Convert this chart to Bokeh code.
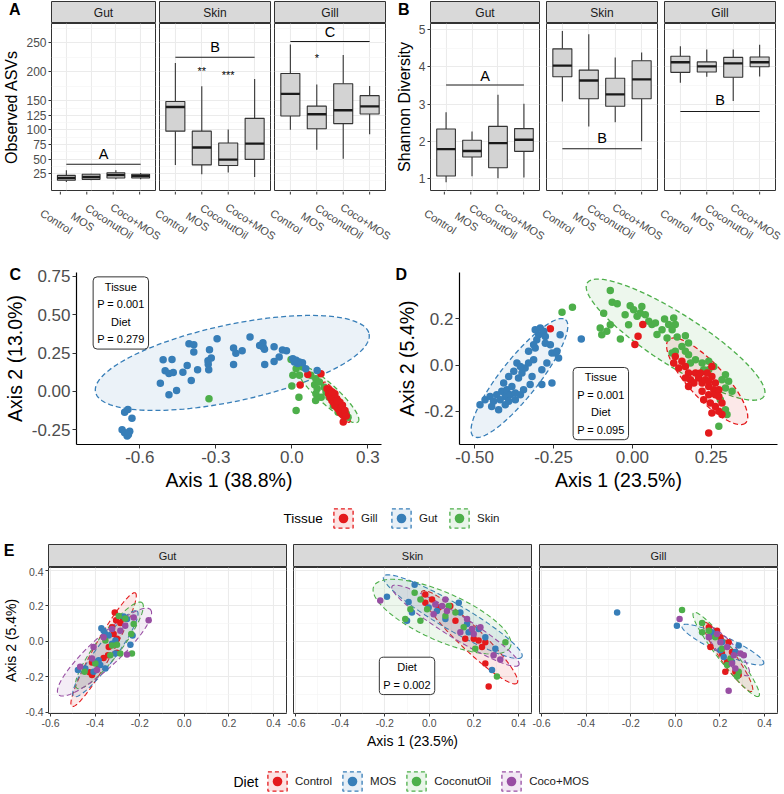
import numpy as np
from bokeh.plotting import figure
from bokeh.layouts import row, column
from bokeh.models import (Range1d, FixedTicker, Label, Legend, LegendItem, Title,
                          PrintfTickFormatter, LinearAxis, Grid)
from bokeh.embed import file_html
from bokeh.resources import INLINE
from bokeh.core.properties import value

# ---------------------------------------------------------------- data
DIETS = ["Control", "MOS", "CoconutOil", "Coco+MOS"]
TISSUES = ["Gut", "Skin", "Gill"]
TISSUE_LEGEND = ["Gill", "Gut", "Skin"]

# boxplot statistics per diet: lower whisker, Q1, median, Q3, upper whisker
ASV_GUT = [[10.6, 13.5, 17.5, 22.0, 30.6], [13.5, 15.2, 19.2, 23.8, 25.0],
           [15.2, 17.5, 22.6, 26.6, 30.6], [15.2, 17.5, 21.0, 23.8, 26.0]]
ASV_SKIN = [[40, 98, 139.5, 149, 215], [24, 40, 70, 98, 175],
            [27, 39, 49, 77.6, 101], [19, 49.5, 76.5, 120, 187.6]]
ASV_GILL = [[100.5, 124, 162, 197, 247], [66, 102, 127, 141, 178],
            [50.7, 111, 134, 179.5, 229], [92.5, 127.4, 140.6, 159, 175.5]]
ASV_TICKS = [25, 50, 75, 100, 125, 150, 200, 250]
ASV_MINOR = [12.5, 37.5, 62.5, 87.5, 112.5, 137.5, 175, 225, 275]
ASV_GROUP = ["A", "B", "C"]
ASV_GROUP_LINE = [41, 225, 252]
ASV_GROUP_TEXT = [58, 242, 268]
ASV_STARS = [[], [("**", 2, 202), ("***", 3, 194)], [("*", 2, 224)]]

SH_GUT = [[0.90, 1.07, 1.79, 2.33, 2.78], [1.06, 1.58, 1.74, 2.03, 2.26],
          [1.01, 1.29, 1.95, 2.40, 3.25], [1.03, 1.73, 2.04, 2.34, 3.01]]
SH_SKIN = [[3.07, 3.73, 4.03, 4.48, 4.96], [2.40, 3.14, 3.63, 3.91, 4.87],
           [2.51, 2.94, 3.26, 3.69, 4.25], [2.00, 3.14, 3.66, 4.16, 4.38]]
SH_GILL = [[3.57, 3.85, 4.12, 4.28, 4.55], [3.73, 3.86, 4.01, 4.13, 4.46],
           [3.08, 3.72, 4.09, 4.25, 4.46], [3.74, 4.00, 4.12, 4.26, 4.59]]
SH_TICKS = [1, 2, 3, 4, 5]
SH_MINOR = [1.5, 2.5, 3.5, 4.5]
SH_GROUP = ["A", "B", "B"]
SH_GROUP_LINE = [3.51, 1.80, 2.80]
SH_GROUP_TEXT = [3.74, 2.09, 3.10]

# PCoA C (Axis 1 38.8 %, Axis 2 13.0 %) points by tissue
C_GUT = [(-0.67, -0.25), (-0.65, -0.29), (-0.64, -0.26), (-0.66, -0.27), (-0.645, -0.28),
         (-0.66, -0.135), (-0.647, -0.118), (-0.631, -0.174), (-0.519, 0.054), (-0.508, 0.207),
         (-0.473, 0.209), (-0.5, 0.135), (-0.485, 0.117), (-0.468, 0.123), (-0.485, -0.022),
         (-0.455, 0.007), (-0.43, 0.126), (-0.413, 0.17), (-0.397, 0.072), (-0.406, 0.311),
         (-0.387, 0.305), (-0.387, 0.257), (-0.372, 0.141), (-0.33, 0.178), (-0.328, 0.141),
         (-0.331, 0.2), (-0.318, 0.218), (-0.325, 0.272), (-0.295, 0.344), (-0.23, 0.283),
         (-0.221, 0.25), (-0.196, 0.266), (-0.23, 0.176), (-0.165, 0.355), (-0.127, 0.3),
         (-0.114, 0.318), (-0.113, 0.29), (-0.108, 0.276), (-0.107, 0.176), (-0.07, 0.292),
         (-0.07, 0.196), (-0.05, 0.224), (-0.037, 0.27), (-0.021, 0.265), (0.004, 0.213),
         (0.017, 0.203), (0.03, 0.192), (0.042, 0.187), (0.023, 0.183), (0.01, 0.192),
         (0.1, 0.137), (0.055, 0.148)]
C_SKIN = [(-0.327, -0.048), (-0.003, 0.209), (0.017, 0.148), (0.042, 0.159), (0.03, 0.105),
          (0.004, 0.105), (0.0, 0.035), (0.028, -0.037), (0.017, -0.124), (0.09, 0.044),
          (0.1, 0.018), (0.095, -0.015), (0.116, -0.037), (0.094, -0.059), (0.075, 0.105),
          (0.095, 0.083), (0.109, 0.061), (0.128, 0.028), (0.141, -0.004), (0.158, -0.048),
          (0.177, -0.081), (0.196, -0.114), (0.215, -0.146), (0.183, -0.135), (0.164, -0.092),
          (0.147, -0.037), (0.135, -0.004), (0.222, -0.168), (0.17, -0.06), (0.19, -0.095),
          (0.2, -0.12)]
C_GILL = [(0.063, 0.111), (0.033, 0.042), (0.115, 0.115), (0.139, 0.017), (0.145, -0.015),
          (0.151, -0.037), (0.158, -0.059), (0.164, -0.07), (0.17, -0.092), (0.177, -0.103),
          (0.183, -0.114), (0.19, -0.135), (0.196, -0.146), (0.203, -0.157), (0.209, -0.146),
          (0.164, -0.037), (0.177, -0.048), (0.183, -0.081), (0.17, -0.015), (0.196, -0.103),
          (0.203, -0.2), (0.151, 0.006), (0.16, -0.004), (0.19, -0.07), (0.2, -0.09),
          (0.21, -0.125), (0.18, -0.06), (0.215, -0.16)]
# ellipses: centre x, centre y, major half-axis (dx, dy), minor half-axis (dx, dy); order Gut, Skin, Gill
C_ELL = [(-0.235, 0.186, 0.54, 0.19, 0.03, -0.245),
         (0.14, -0.014, 0.122, -0.183, 0.025, 0.049),
         (0.177, -0.07, 0.051, -0.13, 0.016, 0.018)]

# PCoA D (Axis 1 23.5 %, Axis 2 5.4 %)
D_GUT = [(-0.483, -0.171), (-0.467, -0.149), (-0.451, -0.135), (-0.44, -0.156), (-0.424, -0.192),
         (-0.43, -0.128), (-0.414, -0.113), (-0.403, -0.135), (-0.398, -0.106), (-0.387, -0.128),
         (-0.382, -0.092), (-0.371, -0.149), (-0.408, -0.077), (-0.392, -0.049), (-0.376, -0.027),
         (-0.366, 0.009), (-0.361, -0.056), (-0.35, -0.034), (-0.34, -0.013), (-0.329, 0.009),
         (-0.313, 0.023), (-0.308, 0.073), (-0.303, 0.109), (-0.297, 0.13), (-0.308, 0.152),
         (-0.292, 0.159), (-0.281, 0.145), (-0.276, 0.123), (-0.26, 0.087), (-0.255, 0.052),
         (-0.244, 0.052), (-0.229, 0.13), (-0.234, 0.03), (-0.324, -0.084), (-0.287, -0.084),
         (-0.255, -0.077), (-0.403, -0.171), (-0.446, -0.178), (-0.419, -0.149), (-0.392, -0.156),
         (-0.355, -0.128), (-0.371, -0.12), (-0.345, -0.106), (-0.318, -0.049), (-0.287, -0.02),
         (-0.271, 0.009), (-0.329, 0.059), (-0.355, -0.006), (-0.313, 0.087), (-0.276, 0.094),
         (-0.239, 0.059), (-0.162, 0.112)]
D_SKIN = [(-0.223, 0.227), (-0.19, 0.249), (-0.07, 0.321), (-0.064, 0.27), (-0.048, 0.264),
          (-0.091, 0.223), (-0.07, 0.173), (-0.081, 0.145), (-0.097, 0.13), (-0.102, 0.159),
          (-0.038, 0.112), (-0.023, 0.216), (-0.007, 0.255), (0.004, 0.238), (0.015, 0.21),
          (0.025, 0.224), (0.03, 0.252), (0.041, 0.216), (-0.012, 0.173), (0.052, 0.188),
          (0.062, 0.174), (0.073, 0.181), (0.078, 0.131), (0.094, 0.152), (0.102, 0.198),
          (0.115, 0.174), (0.131, 0.202), (0.136, 0.174), (0.126, 0.152), (0.11, 0.116),
          (0.142, 0.12), (0.168, 0.126), (0.178, 0.095), (0.157, 0.08), (0.168, 0.059),
          (0.178, 0.044), (0.2, 0.023), (0.221, 0.009), (0.242, 0.016), (0.258, -0.006),
          (0.242, -0.02), (0.226, -0.02), (0.184, 0.009), (0.136, 0.059), (0.126, 0.052),
          (0.295, -0.042), (0.284, -0.063), (0.305, -0.07), (0.316, -0.113), (0.295, -0.099),
          (0.279, -0.149), (0.295, -0.192), (0.3, -0.213), (0.274, -0.263)]
D_GILL = [(-0.26, 0.156), (0.033, 0.174), (0.018, 0.124), (0.008, 0.088), (0.136, 0.037),
          (0.131, 0.009), (0.147, -0.013), (0.157, 0.016), (0.168, -0.006), (0.178, -0.034),
          (0.184, -0.063), (0.2, -0.034), (0.21, -0.056), (0.221, -0.077), (0.231, -0.063),
          (0.242, -0.092), (0.252, -0.049), (0.263, -0.077), (0.258, -0.106), (0.221, -0.113),
          (0.242, -0.128), (0.226, -0.149), (0.247, -0.163), (0.263, -0.178), (0.274, -0.199),
          (0.284, -0.213), (0.252, -0.206), (0.263, -0.128), (0.274, -0.106), (0.216, -0.034),
          (0.195, -0.077), (0.168, -0.056), (0.178, -0.092), (0.242, -0.07), (0.237, -0.034),
          (0.252, -0.006), (0.274, -0.135), (0.284, -0.163), (0.242, -0.292)]
D_ELL = [(-0.358, -0.056, 0.146, 0.251, 0.047, -0.05),
         (0.137, 0.109, 0.28, -0.244, -0.0434, -0.0917),
         (0.237, -0.07, 0.122, -0.179, -0.041, -0.052)]

# E: per tissue facet, points per diet (Control, MOS, CoconutOil, Coco+MOS)
E_GUT_CONTROL = [(-0.312, 0.163), (-0.306, 0.12), (-0.287, 0.104), (-0.324, 0.08), (-0.317, 0.042),
                 (-0.302, 0.015), (-0.339, -0.031), (-0.302, -0.063), (-0.362, -0.093), (-0.414, -0.119),
                 (-0.425, -0.174), (-0.384, -0.133), (-0.276, 0.129), (-0.342, -0.078), (-0.414, -0.189)]
E_GUT_MOS = [(-0.399, -0.115), (-0.384, -0.106), (-0.377, -0.133), (-0.362, 0.061), (-0.354, 0.042),
             (-0.339, 0.033), (-0.309, 0.006), (-0.272, 0.141), (-0.257, 0.126), (-0.309, -0.068),
             (-0.232, 0.033), (-0.242, -0.018), (-0.444, -0.152), (-0.477, -0.161), (-0.407, -0.17),
             (-0.354, -0.152), (-0.324, -0.013), (-0.372, 0.074)]
E_GUT_COCO = [(-0.324, -0.022), (-0.302, -0.018), (-0.287, -0.068), (-0.265, 0.129), (-0.238, 0.042),
              (-0.227, 0.098), (-0.354, 0.006), (-0.332, -0.078), (-0.399, -0.124), (-0.447, -0.17),
              (-0.235, -0.068), (-0.294, 0.144)]
E_GUT_COCOMOS = [(-0.16, 0.12), (-0.227, 0.135), (-0.257, -0.074), (-0.407, -0.031), (-0.362, 0.024),
                 (-0.324, 0.07), (-0.287, 0.061), (-0.392, -0.161), (-0.414, -0.096), (-0.265, 0.089),
                 (-0.467, -0.143)]
E_SKIN_CONTROL = [(-0.018, 0.265), (-0.018, 0.219), (0.042, 0.191), (0.094, 0.2), (0.117, 0.117),
                  (0.161, 0.015), (0.199, 0.015), (0.221, 0.006), (0.251, -0.004), (0.236, -0.031),
                  (0.251, -0.124), (0.266, -0.254), (0.012, 0.237)]
E_SKIN_MOS = [(-0.19, 0.252), (-0.066, 0.32), (-0.093, 0.222), (-0.078, 0.163), (-0.1, 0.117),
              (0.034, 0.172), (0.132, 0.219), (0.139, 0.163), (0.169, 0.098), (0.221, 0.07),
              (0.251, 0.024), (0.296, -0.041), (0.281, -0.161), (0.072, 0.126), (-0.003, 0.191),
              (0.176, 0.052)]
E_SKIN_COCO = [(-0.066, 0.274), (-0.04, 0.237), (-0.085, 0.181), (-0.108, 0.126), (-0.04, 0.117),
               (-0.01, 0.181), (0.072, 0.144), (0.117, 0.163), (0.154, 0.08), (0.303, -0.198),
               (0.341, -0.004), (0.087, 0.2), (0.206, -0.041)]
E_SKIN_COCOMOS = [(-0.22, 0.231), (0.027, 0.209), (0.019, 0.154), (0.057, 0.2), (0.079, 0.172),
                  (0.169, 0.126), (0.191, 0.07), (0.199, 0.042), (0.229, 0.08), (0.288, -0.078),
                  (0.318, -0.102), (0.072, 0.237), (0.139, 0.052)]
E_GILL_CONTROL = [(0.15, 0.08), (0.187, 0.061), (0.157, -0.031), (0.209, -0.068), (0.232, -0.115),
                  (0.269, -0.17), (0.284, -0.189), (0.254, -0.059), (0.239, -0.004), (0.202, 0.024),
                  (0.224, -0.17)]
E_GILL_MOS = [(-0.261, 0.163), (0.007, 0.089), (0.157, 0.03), (0.209, -0.004), (0.284, -0.022),
              (0.217, -0.087), (0.202, -0.05), (0.254, -0.115), (0.164, 0.052), (0.269, -0.059)]
E_GILL_COCO = [(0.03, 0.178), (0.12, 0.104), (0.12, 0.052), (0.15, 0.061), (0.179, 0.024),
               (0.232, -0.133), (0.277, -0.198), (0.284, -0.17), (0.209, -0.041), (0.247, -0.096)]
E_GILL_COCOMOS = [(0.019, 0.126), (0.239, -0.278), (0.15, 0.024), (0.202, -0.004), (0.232, -0.031),
                  (0.262, -0.078), (0.292, -0.068), (0.307, -0.078), (0.254, -0.124), (0.269, -0.152),
                  (0.187, 0.042)]
E_GUT_ELL = [(-0.362, -0.046, 0.142, 0.32, 0.0366, -0.025), (-0.354, -0.069, 0.142, 0.241, 0.036, -0.033),
             (-0.336, -0.022, 0.146, 0.241, 0.043, -0.04), (-0.358, -0.06, 0.206, 0.24, 0.046, -0.061)]
E_SKIN_ELL = [(0.18, 0.024, 0.213, -0.259, -0.037, -0.046), (0.105, 0.14, 0.31, -0.227, -0.03, -0.064),
              (0.057, 0.14, 0.306, -0.171, -0.045, -0.123), (0.117, 0.089, 0.284, -0.222, -0.028, -0.055)]
E_GILL_ELL = [(0.236, -0.087, 0.108, -0.194, -0.027, -0.023), (0.213, -0.018, 0.183, -0.107, -0.016, -0.042),
              (0.228, -0.073, 0.146, -0.236, -0.03, -0.028), (0.236, -0.055, 0.093, -0.135, -0.028, -0.03)]

# ---------------------------------------------------------------- style
FONT = "Liberation Sans"
RED, BLUE, GREEN, PURPLE = "#E41A1C", "#377EB8", "#4DAF4A", "#984EA3"
TISSUE_COLORS = {"Gut": BLUE, "Skin": GREEN, "Gill": RED}
DIET_COLORS = [RED, BLUE, GREEN, PURPLE]
DARK = "#333333"
TICKC = "#4D4D4D"
BOXW = 0.72
T = np.linspace(0, 2 * np.pi, 121)
W_ALL = 784


def base_fig(w, h, lb, rb, tb, bb, xr, yr):
    p = figure(width=w, height=h, x_range=Range1d(*xr), y_range=Range1d(*yr),
               x_axis_type=None, y_axis_type=None, toolbar_location=None,
               output_backend="svg", title=None,
               min_border_left=lb, min_border_right=rb,
               min_border_top=tb, min_border_bottom=bb)
    p.outline_line_color = None
    p.background_fill_color = "white"
    p.border_fill_color = "white"
    return p


def add_axis(p, side, ticks, fmt=None, label=None, tick_size="12px", label_size="15px",
             tick_len=3, line_color=None, line_width=1.0):
    ax = LinearAxis(ticker=FixedTicker(ticks=ticks, minor_ticks=[]))
    if fmt:
        ax.formatter = PrintfTickFormatter(format=fmt)
    ax.axis_line_color = line_color
    ax.axis_line_width = line_width
    ax.major_tick_line_color = DARK
    ax.major_tick_in = 0
    ax.major_tick_out = tick_len
    ax.minor_tick_line_color = None
    ax.major_label_text_font = FONT
    ax.major_label_text_color = TICKC
    ax.major_label_text_font_size = tick_size
    ax.major_label_standoff = 2
    if label:
        ax.axis_label = label
        ax.axis_label_text_font = FONT
        ax.axis_label_text_font_size = label_size
        ax.axis_label_text_font_style = "normal"
        ax.axis_label_text_color = "black"
        ax.axis_label_standoff = 3
    p.add_layout(ax, side)


def add_grid(p, dim, ticks, minor):
    g = Grid(dimension=dim, ticker=FixedTicker(ticks=ticks, minor_ticks=minor),
             grid_line_color="#EBEBEB", grid_line_width=1.1,
             minor_grid_line_color="#F3F3F3" if minor else None, minor_grid_line_width=0.6)
    p.add_layout(g)


def ellipse(p, e, col, lw=1.1):
    cx, cy, ax_, ay_, bx, by = e
    xs = cx + ax_ * np.cos(T) + bx * np.sin(T)
    ys = cy + ay_ * np.cos(T) + by * np.sin(T)
    p.patch(x=xs, y=ys, fill_color=col, fill_alpha=0.1, line_color=col,
            line_dash="5 3", line_width=lw)


def dots(p, pts, col, size):
    p.scatter(x=[q[0] for q in pts], y=[q[1] for q in pts], size=size,
              fill_color=col, line_color=None)


def strip(w, h, l, r, top, txt, size, tag=None, tag_from_top=8, tag_right=13):
    """facet strip; the optional panel letter is the single label of a bare left axis"""
    sh = h - top
    p = base_fig(w, h, l, r, top, 0, (0, 1), (0, sh))
    p.background_fill_color = "#D9D9D9"
    p.outline_line_color = DARK
    p.text(x=[0.5], y=[sh / 2], text=[txt], text_align="center", text_baseline="middle",
           text_font=value(FONT), text_font_size=size, text_color="#1A1A1A")
    if tag:
        ty = sh - tag_from_top
        ax = LinearAxis(ticker=FixedTicker(ticks=[ty], minor_ticks=[]),
                        major_label_overrides={ty: tag})
        ax.axis_line_color = None
        ax.major_tick_line_color = None
        ax.major_tick_in = 0
        ax.major_tick_out = 0
        ax.minor_tick_line_color = None
        ax.major_label_standoff = l - tag_right
        ax.major_label_text_font = FONT
        ax.major_label_text_font_size = "16px"
        ax.major_label_text_font_style = "bold"
        ax.major_label_text_color = "black"
        p.add_layout(ax, "left")
    return p


def box_facet(stats, yr, yticks, yminor, grp, gline, gtext, stars, w, lb, rb, ylabel):
    p = base_fig(w, 168, lb, rb, 0, 1, (0.4, 4.6), yr)
    p.outline_line_color = DARK
    add_grid(p, 0, [1, 2, 3, 4], [])
    add_grid(p, 1, yticks, yminor)
    if ylabel:
        add_axis(p, "left", yticks, label=ylabel, tick_size="12px", label_size="16px")
    xs = [1, 2, 3, 4]
    lo = [s[0] for s in stats]
    q1 = [s[1] for s in stats]
    md = [s[2] for s in stats]
    q3 = [s[3] for s in stats]
    hi = [s[4] for s in stats]
    p.segment(x0=xs, y0=lo, x1=xs, y1=q1, line_color=DARK, line_width=1.1)
    p.segment(x0=xs, y0=q3, x1=xs, y1=hi, line_color=DARK, line_width=1.1)
    p.vbar(x=xs, width=BOXW, bottom=q1, top=q3, fill_color="#D3D3D3",
           line_color=DARK, line_width=1.1)
    p.segment(x0=[x - BOXW / 2 for x in xs], y0=md, x1=[x + BOXW / 2 for x in xs], y1=md,
              line_color="#1A1A1A", line_width=2.4)
    p.segment(x0=[1], y0=[gline], x1=[4], y1=[gline], line_color="#1A1A1A", line_width=1.1)
    p.text(x=[2.5], y=[gtext], text=[grp], text_align="center", text_baseline="middle",
           text_font=value(FONT), text_font_size="14.5px", text_color="black")
    if stars:
        p.text(x=[s[1] for s in stars], y=[s[2] for s in stars], text=[s[0] for s in stars],
               text_align="center", text_baseline="middle", text_font=value(FONT),
               text_font_size="11px", text_color="black")
    return p


def facet_range(panel_left, lb, fw, h_units=4.2, start=0.4):
    """x range (in a facet's own category units) spanning the full page width"""
    upp = h_units / fw
    x0 = start - (panel_left + lb) * upp
    return (x0, x0 + W_ALL * upp), (fw, upp)


def box_panel(stats_list, yr, yticks, yminor, grps, glines, gtexts, stars_list,
              lb, fw, gap, rb_last, ylabel, tag, tag_right):
    cols = []
    for k, t in enumerate(TISSUES):
        l = lb if k == 0 else gap - gap // 2
        r = rb_last if k == 2 else gap // 2
        w = l + fw + r
        s = strip(w, 23, l, r, 1, t, "12px", tag if k == 0 else None, 8, tag_right)
        pp = box_facet(stats_list[k], yr, yticks, yminor, grps[k], glines[k], gtexts[k],
                       stars_list[k], w, l, r, ylabel if k == 0 else None)
        cols.append(column(s, pp))
    return cols


def add_tick_labels(p, range_name, fw, gap, h):
    """x tick marks and rotated diet labels below the three facets of one panel"""
    upp = 4.2 / fw
    stride = (fw + gap) * upp
    xs = [k * stride + i + 1 for k in range(len(TISSUES)) for i in range(len(DIETS))]
    txt = [d for k in range(len(TISSUES)) for d in DIETS]
    kw = {} if range_name is None else {"x_range_name": range_name}
    p.segment(x0=xs, y0=[h] * len(xs), x1=xs, y1=[h - 3] * len(xs), line_color=DARK,
              line_width=1, **kw)
    p.text(x=xs, y=[h - 30] * len(xs), text=txt, angle=-np.pi * 33 / 180, x_offset=-4,
           text_align="center", text_baseline="middle", text_font=value(FONT),
           text_font_size="11px", text_color=TICKC, **kw)


def ord_fig(w, h, lb, rb, tb, bb, xr, yr, xt, xfmt, yt, yfmt, xlab, ylab, ells, pts, tag,
            box_txt, box_xy):
    p = base_fig(w, h, lb, rb, tb, bb, xr, yr)
    add_axis(p, "below", xt, fmt=xfmt, label=xlab, tick_size="17px", label_size="19.5px",
             tick_len=4, line_color="black", line_width=1.2)
    add_axis(p, "left", yt, fmt=yfmt, label=ylab, tick_size="17px", label_size="19.5px",
             tick_len=4, line_color="black", line_width=1.2)
    for e, t in zip(ells, TISSUES):
        ellipse(p, e, TISSUE_COLORS[t], 1.3)
    for t in ["Skin", "Gill", "Gut"]:
        dots(p, pts[t], TISSUE_COLORS[t], 7.5)
    p.add_layout(Label(x=box_xy[0], y=box_xy[1], text=box_txt, text_align="center",
                       text_baseline="middle", text_font=FONT, text_font_size="11px",
                       text_line_height=1.45, text_color="black",
                       background_fill_color="white", border_line_color=DARK,
                       border_line_width=1, padding=4, border_radius=4))
    p.add_layout(Title(text=tag, align="left", offset=-(lb - 3), standoff=-20,
                       text_font=FONT, text_font_size="16px", text_font_style="bold",
                       text_color="black"), "above")
    return p


def legend_fig(h, title, labels, colors, title_x, leg_x, leg_y, title_size, label_size):
    p = base_fig(W_ALL, h, 0, 0, 0, 0, (0, W_ALL), (0, h))
    items = []
    for lab, col in zip(labels, colors):
        r1 = p.quad(left=[-60], right=[-50], bottom=[-60], top=[-50], fill_color=col,
                    fill_alpha=0.12, line_color=col, line_dash="4 3", line_width=1.3)
        r2 = p.scatter(x=[-55], y=[-55], size=8, fill_color=col, line_color=None)
        items.append(LegendItem(label=lab, renderers=[r1, r2]))
    leg = Legend(items=items, location=(leg_x, leg_y), orientation="horizontal",
                 glyph_width=24, glyph_height=24, label_standoff=6, spacing=8,
                 padding=0, margin=0, border_line_color=None, background_fill_alpha=0,
                 label_text_font=FONT, label_text_font_size=label_size,
                 label_text_color="#1A1A1A")
    p.add_layout(leg)
    p.text(x=[title_x], y=[leg_y + 12], text=[title], text_align="left", text_baseline="middle",
           text_font=value(FONT), text_font_size=title_size, text_color="black")
    return p


# ---------------------------------------------------------------- panels A, B (row 1)
A_LB, A_FW, A_GAP, A_RB = 44, 111, 4, 7
B_LB, B_FW, B_GAP, B_RB = 36, 111, 7, 9
colsA = box_panel([ASV_GUT, ASV_SKIN, ASV_GILL], (-4, 283), ASV_TICKS, ASV_MINOR,
                  ASV_GROUP, ASV_GROUP_LINE, ASV_GROUP_TEXT, ASV_STARS,
                  A_LB, A_FW, A_GAP, A_RB, "Observed ASVs", "A", 13)
colsB = box_panel([SH_GUT, SH_SKIN, SH_GILL], (0.68, 5.16), SH_TICKS, SH_MINOR,
                  SH_GROUP, SH_GROUP_LINE, SH_GROUP_TEXT, [[], [], []],
                  B_LB, B_FW, B_GAP, B_RB, "Shannon Diversity", "B", 15)

LAB_H = 60
xrA, _ = facet_range(0, A_LB, A_FW)
xrB, _ = facet_range(392, B_LB, B_FW)
labs = base_fig(W_ALL, LAB_H, 0, 0, 0, 0, xrA, (0, LAB_H))
labs.extra_x_ranges = {"B": Range1d(*xrB)}
add_tick_labels(labs, None, A_FW, A_GAP, LAB_H)
add_tick_labels(labs, "B", B_FW, B_GAP, LAB_H)
row1 = column(row(*colsA, *colsB), labs)

# ---------------------------------------------------------------- panels C, D (row 2)
figC = ord_fig(392, 249, 70, 11, 21, 56, (-0.85, 0.354), (-0.346, 0.776),
               [-0.6, -0.3, 0.0, 0.3], "%.1f", [-0.25, 0.0, 0.25, 0.5, 0.75], "%.2f",
               "Axis 1 (38.8%)", "Axis 2 (13.0%)", C_ELL,
               {"Gut": C_GUT, "Skin": C_SKIN, "Gill": C_GILL}, "C",
               "Tissue\nP = 0.001\nDiet\nP = 0.279", (-0.675, 0.512))
figD = ord_fig(392, 249, 67, 7, 21, 56, (-0.548, 0.46), (-0.342, 0.398),
               [-0.5, -0.25, 0.0, 0.25], "%.2f", [-0.2, 0.0, 0.2], "%.1f",
               "Axis 1 (23.5%)", "Axis 2 (5.4%)", D_ELL,
               {"Gut": D_GUT, "Skin": D_SKIN, "Gill": D_GILL}, "D",
               "Tissue\nP = 0.001\nDiet\nP = 0.095", (-0.1, -0.166))

legT = legend_fig(36, "Tissue", TISSUE_LEGEND, [RED, BLUE, GREEN], 283, 331, 6,
                  "13.5px", "11.5px")

# ---------------------------------------------------------------- panel E
E_XR, E_YR = (-0.609, 0.458), (-0.406, 0.417)
E_XT = [-0.6, -0.4, -0.2, 0.0, 0.2, 0.4]
E_XM = [-0.5, -0.3, -0.1, 0.1, 0.3]
E_YT = [-0.4, -0.2, 0.0, 0.2, 0.4]
E_YM = [-0.3, -0.1, 0.1, 0.3]
E_PTS = [[E_GUT_CONTROL, E_GUT_MOS, E_GUT_COCO, E_GUT_COCOMOS],
         [E_SKIN_CONTROL, E_SKIN_MOS, E_SKIN_COCO, E_SKIN_COCOMOS],
         [E_GILL_CONTROL, E_GILL_MOS, E_GILL_COCO, E_GILL_COCOMOS]]
E_ELLS = [E_GUT_ELL, E_SKIN_ELL, E_GILL_ELL]
E_BORDERS = [(48, 1), (6, 1), (7, 7)]
E_FW = 238

e_cols = []
for k, t in enumerate(TISSUES):
    l, r = E_BORDERS[k]
    w = l + E_FW + r
    s = strip(w, 31, l, r, 8, t, "11px", "E" if k == 0 else None, 6, 14)
    p = base_fig(w, 191, l, r, 0, 45, E_XR, E_YR)
    p.outline_line_color = DARK
    add_grid(p, 0, E_XT, E_XM)
    add_grid(p, 1, E_YT, E_YM)
    add_axis(p, "below", E_XT, fmt="%.1f", label="Axis 1 (23.5%)" if k == 1 else None,
             tick_size="10.5px", label_size="14px")
    if k == 0:
        add_axis(p, "left", E_YT, fmt="%.1f", label="Axis 2 (5.4%)",
                 tick_size="10.5px", label_size="14px")
    for e, col in zip(E_ELLS[k], DIET_COLORS):
        ellipse(p, e, col, 1.1)
    for pts, col in zip(E_PTS[k], DIET_COLORS):
        dots(p, pts, col, 6.5)
    if k == 1:
        p.add_layout(Label(x=-0.1, y=-0.194, text="Diet\nP = 0.002", text_align="center",
                           text_baseline="middle", text_font=FONT, text_font_size="11px",
                           text_line_height=1.45, text_color="black",
                           background_fill_color="white", border_line_color=DARK,
                           border_line_width=1, padding=4, border_radius=4))
    e_cols.append(column(s, p))

legD = legend_fig(36, "Diet", DIETS, DIET_COLORS, 233, 265, 1, "14px", "11.5px")

layout = column(row1, row(figC, figD), legT, row(*e_cols), legD)
open("out.html", "w").write(file_html(layout, INLINE, title="Diversity and PCoA"))
